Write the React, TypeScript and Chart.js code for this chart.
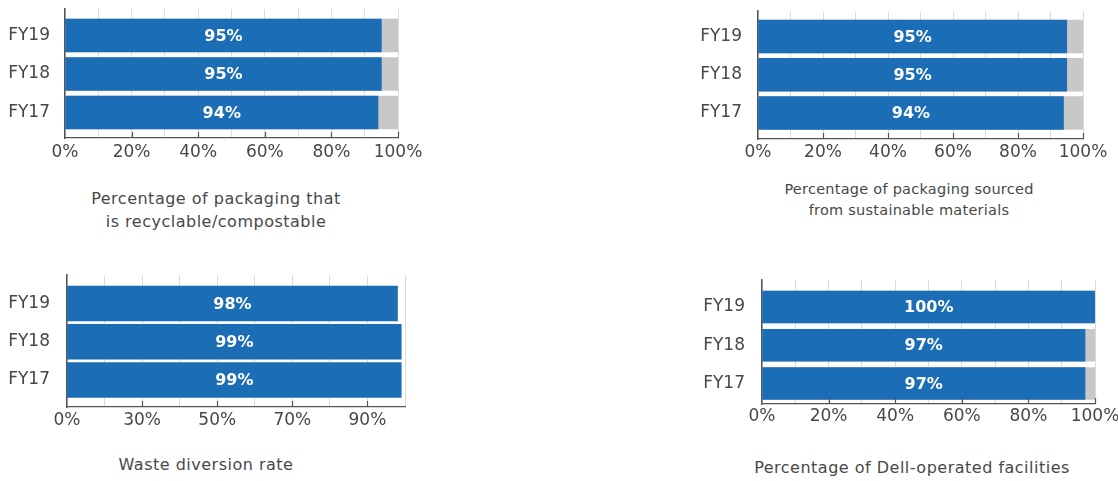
import React, { useEffect, useRef } from "react";
import { Chart, registerables } from "chart.js";

Chart.register(...registerables);

// ---- data ----
const years = ["FY19", "FY18", "FY17"];
const recyclable = [95, 95, 94];
const sustainable = [95, 95, 94];
const wasteDiversion = [98, 99, 99];
const facilities = [100, 97, 97];
const fullScale = [100, 100, 100];

const pctTickValues = [0, 20, 40, 60, 80, 100];
const pctTickLabels = ["0%", "20%", "40%", "60%", "80%", "100%"];
const wasteTickValues = [10, 30, 50, 70, 90];
const wasteTickLabels = ["0%", "30%", "50%", "70%", "90%"];

const titleRecyclable = ["Percentage of packaging that", "is recyclable/compostable"];
const titleSustainable = ["Percentage of packaging sourced", "from sustainable materials"];
const titleWaste = ["Waste diversion rate"];
const titleFacilities = ["Percentage of Dell-operated facilities"];

// ---- styles ----
const BLUE = "#1b6db6";
const GRAY = "#c8c8c8";
const GRID = "#dadada";
const AXIS = "#555555";
const TEXT = "#484848";
const FONT = "'DejaVu Sans', sans-serif";

type PanelCfg = {
  values: number[];
  remainder: boolean;
  xMin: number;
  tickValues: number[];
  tickLabels: string[];
  title: string[];
  titleSize: number;
  titleSpacing: number;
  titleLine: number;
  titleCenterX: number;
  titleTop: number;
  left: number;
  top: number;
  width: number;
  height: number;
  yWidth: number;
  xHeight: number;
  padTop: number;
  padRight: number;
  yMin: number;
  yMax: number;
  barThickness: number;
  yLabelPad: number;
  xLabelPad: number;
};

const panels: PanelCfg[] = [
  {
    values: recyclable, remainder: true, xMin: 0,
    tickValues: pctTickValues, tickLabels: pctTickLabels,
    title: titleRecyclable, titleSize: 16, titleSpacing: 0.5, titleLine: 23, titleCenterX: 216, titleTop: 187,
    left: 0, top: 0, width: 430, height: 175, yWidth: 65, xHeight: 37, padTop: 9, padRight: 32,
    yMin: -0.688, yMax: 2.663, barThickness: 33, yLabelPad: 15, xLabelPad: 4,
  },
  {
    values: sustainable, remainder: true, xMin: 0,
    tickValues: pctTickValues, tickLabels: pctTickLabels,
    title: titleSustainable, titleSize: 14.5, titleSpacing: 0.25, titleLine: 21, titleCenterX: 909, titleTop: 178.5,
    left: 690, top: 0, width: 428, height: 177, yWidth: 68, xHeight: 38, padTop: 11, padRight: 35,
    yMin: -0.667, yMax: 2.68, barThickness: 33, yLabelPad: 16, xLabelPad: 3,
  },
  {
    values: wasteDiversion, remainder: false, xMin: 10,
    tickValues: wasteTickValues, tickLabels: wasteTickLabels,
    title: titleWaste, titleSize: 16, titleSpacing: 0.5, titleLine: 23, titleCenterX: 206, titleTop: 453,
    left: 0, top: 260, width: 430, height: 185, yWidth: 67, xHeight: 38, padTop: 15, padRight: 25,
    yMin: -0.745, yMax: 2.706, barThickness: 35, yLabelPad: 17, xLabelPad: 3,
  },
  {
    values: facilities, remainder: true, xMin: 0,
    tickValues: pctTickValues, tickLabels: pctTickLabels,
    title: titleFacilities, titleSize: 16, titleSpacing: 0.5, titleLine: 23, titleCenterX: 912, titleTop: 456,
    left: 690, top: 260, width: 428, height: 180, yWidth: 72, xHeight: 36, padTop: 20, padRight: 23,
    yMin: -0.706, yMax: 2.536, barThickness: 32, yLabelPad: 17, xLabelPad: 2,
  },
];

const barLabelPlugin = {
  id: "barLabels",
  afterDatasetsDraw(chart: any) {
    const ctx = chart.ctx;
    const area = chart.chartArea;
    const meta = chart.getDatasetMeta(0);
    ctx.save();
    ctx.fillStyle = "#ffffff";
    ctx.font = `bold 16px ${FONT}`;
    ctx.textAlign = "center";
    ctx.textBaseline = "middle";
    meta.data.forEach((el: any, i: number) => {
      const raw = chart.data.datasets[0].data[i];
      const l = Math.max(Math.min(el.x, el.base), area.left);
      const r = Math.min(Math.max(el.x, el.base), area.right);
      ctx.fillText(`${raw.x}%`, (l + r) / 2, el.y + 1);
    });
    ctx.restore();
  },
};

const tickMarkPlugin = {
  id: "tickMarks",
  afterDatasetsDraw(chart: any, _args: any, opts: any) {
    const ctx = chart.ctx;
    const area = chart.chartArea;
    const xs = chart.scales.x;
    ctx.save();
    ctx.strokeStyle = AXIS;
    ctx.lineWidth = 1.2;
    (opts.values || []).forEach((v: number) => {
      if (v === xs.min) return;
      const px = Math.round(xs.getPixelForValue(v)) + 0.5;
      ctx.beginPath();
      ctx.moveTo(px, area.bottom - 6);
      ctx.lineTo(px, area.bottom);
      ctx.stroke();
    });
    ctx.restore();
  },
};

function Panel({ cfg }: { cfg: PanelCfg }) {
  const ref = useRef<HTMLCanvasElement | null>(null);
  useEffect(() => {
    if (!ref.current) return;
    const datasets: any[] = [
      {
        data: cfg.values.map((v, i) => ({ x: v, y: i })),
        backgroundColor: BLUE,
        barThickness: cfg.barThickness,
        grouped: false,
        base: cfg.xMin,
        clip: 0,
        borderWidth: 0,
      },
    ];
    if (cfg.remainder) {
      datasets.push({
        data: fullScale.map((v, i) => ({ x: v, y: i })),
        backgroundColor: GRAY,
        barThickness: cfg.barThickness,
        grouped: false,
        base: cfg.xMin,
        clip: 0,
        borderWidth: 0,
      });
    }
    const chart = new Chart(ref.current, {
      type: "bar",
      data: { datasets },
      plugins: [barLabelPlugin, tickMarkPlugin],
      options: {
        indexAxis: "y",
        responsive: false,
        animation: false,
        events: [],
        layout: { padding: { left: 0, right: cfg.padRight, top: cfg.padTop, bottom: 0 } },
        plugins: {
          legend: { display: false },
          tooltip: { enabled: false },
          title: { display: false },
          tickMarks: { values: cfg.tickValues },
        } as any,
        scales: {
          x: {
            type: "linear",
            position: "bottom",
            min: cfg.xMin,
            max: 100,
            bounds: "data",
            offset: false,
            ticks: {
              stepSize: 10,
              autoSkip: false,
              maxRotation: 0,
              padding: cfg.xLabelPad,
              color: TEXT,
              font: { family: FONT, size: 17 },
              callback: (v: any) => {
                const i = cfg.tickValues.indexOf(Number(v));
                return i >= 0 ? cfg.tickLabels[i] : "";
              },
            },
            grid: { color: GRID, lineWidth: 1, drawTicks: false, drawOnChartArea: true, offset: false },
            border: { display: true, color: AXIS, width: 1.2 },
            afterFit: (s: any) => {
              s.height = cfg.xHeight;
              s.paddingLeft = 0;
              s.paddingRight = 0;
            },
          },
          y: {
            type: "linear",
            position: "left",
            reverse: true,
            min: cfg.yMin,
            max: cfg.yMax,
            bounds: "data",
            offset: false,
            beginAtZero: false,
            afterBuildTicks: (s: any) => {
              s.ticks = years.map((_, i) => ({ value: i }));
            },
            ticks: {
              autoSkip: false,
              padding: cfg.yLabelPad,
              color: TEXT,
              font: { family: FONT, size: 17 },
              callback: (v: any) => years[Math.round(Number(v))] ?? "",
            },
            grid: { display: false, drawTicks: false, offset: false },
            border: { display: true, color: AXIS, width: 1.5 },
            afterFit: (s: any) => {
              s.width = cfg.yWidth;
              s.paddingTop = 0;
              s.paddingBottom = 0;
            },
          },
        },
      } as any,
    });
    return () => chart.destroy();
  }, [cfg]);

  return (
    <>
      <canvas
        ref={ref}
        width={cfg.width}
        height={cfg.height}
        style={{ position: "absolute", left: cfg.left, top: cfg.top, width: cfg.width, height: cfg.height }}
      />
      <div
        style={{
          position: "absolute",
          left: cfg.titleCenterX - 220,
          top: cfg.titleTop,
          width: 440,
          textAlign: "center",
          fontFamily: FONT,
          fontSize: cfg.titleSize,
          letterSpacing: cfg.titleSpacing,
          lineHeight: `${cfg.titleLine}px`,
          color: TEXT,
          whiteSpace: "nowrap",
        }}
      >
        {cfg.title.map((t, i) => (
          <div key={i}>{t}</div>
        ))}
      </div>
    </>
  );
}

export default function App() {
  return (
    <div
      style={{
        position: "absolute",
        left: 0,
        top: 0,
        width: 1118,
        height: 481,
        overflow: "hidden",
        background: "#ffffff",
      }}
    >
      {panels.map((p, i) => (
        <Panel key={i} cfg={p} />
      ))}
    </div>
  );
}
